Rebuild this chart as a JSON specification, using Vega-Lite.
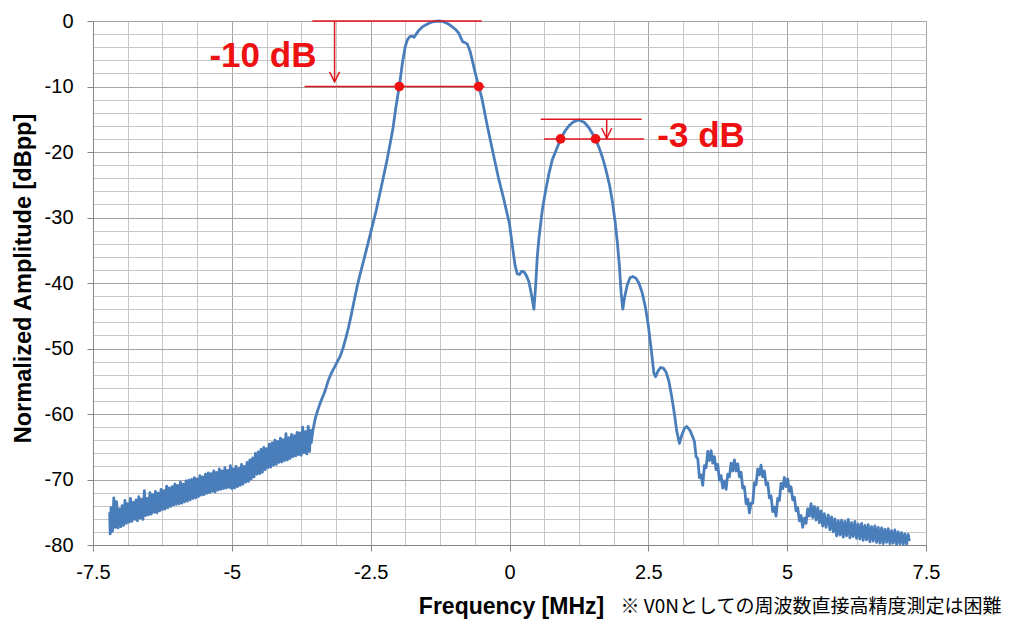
{
 "$schema": "https://vega.github.io/schema/vega-lite/v6.json",
 "width": 833,
 "height": 524,
 "autosize": "none",
 "padding": {"left": 93, "top": 21, "right": 106, "bottom": 78},
 "background": "white",
 "config": {"view": {"stroke": null}, "font": "Liberation Sans"},
 "datasets": {
  "curve": [
   {"f":-7.2,"a":-75.0},{"f":-7.19,"a":-78.3},{"f":-7.175,"a":-74.3},{"f":-7.15,"a":-77.9},{"f":-7.125,"a":-72.8},{"f":-7.1,"a":-77.3},{"f":-7.075,"a":-73.4},{"f":-7.05,"a":-77.4},{"f":-7.025,"a":-74.5},{"f":-7.0,"a":-77.2},
   {"f":-6.975,"a":-74.0},{"f":-6.95,"a":-77.0},{"f":-6.925,"a":-73.2},{"f":-6.9,"a":-76.7},{"f":-6.875,"a":-73.7},{"f":-6.85,"a":-76.5},{"f":-6.825,"a":-72.9},{"f":-6.8,"a":-76.4},{"f":-6.775,"a":-73.5},{"f":-6.75,"a":-76.1},
   {"f":-6.725,"a":-73.1},{"f":-6.7,"a":-76.3},{"f":-6.675,"a":-72.6},{"f":-6.65,"a":-75.9},{"f":-6.625,"a":-73.0},{"f":-6.6,"a":-76.1},{"f":-6.575,"a":-71.7},{"f":-6.55,"a":-75.5},{"f":-6.525,"a":-72.9},{"f":-6.5,"a":-75.4},
   {"f":-6.475,"a":-72.0},{"f":-6.45,"a":-75.3},{"f":-6.425,"a":-72.3},{"f":-6.4,"a":-75.0},{"f":-6.375,"a":-71.8},{"f":-6.35,"a":-75.1},{"f":-6.325,"a":-72.1},{"f":-6.3,"a":-74.8},{"f":-6.275,"a":-71.5},{"f":-6.25,"a":-74.6},
   {"f":-6.225,"a":-71.7},{"f":-6.2,"a":-74.5},{"f":-6.175,"a":-71.0},{"f":-6.15,"a":-74.3},{"f":-6.125,"a":-71.3},{"f":-6.1,"a":-74.1},{"f":-6.075,"a":-71.1},{"f":-6.05,"a":-73.9},{"f":-6.025,"a":-70.7},{"f":-6.0,"a":-73.8},
   {"f":-5.975,"a":-70.9},{"f":-5.95,"a":-73.7},{"f":-5.925,"a":-70.4},{"f":-5.9,"a":-73.6},{"f":-5.875,"a":-70.7},{"f":-5.85,"a":-73.4},{"f":-5.825,"a":-70.2},{"f":-5.8,"a":-73.3},{"f":-5.775,"a":-70.1},{"f":-5.75,"a":-73.1},
   {"f":-5.725,"a":-70.0},{"f":-5.7,"a":-72.9},{"f":-5.675,"a":-69.7},{"f":-5.65,"a":-72.8},{"f":-5.625,"a":-69.9},{"f":-5.6,"a":-72.6},{"f":-5.575,"a":-69.4},{"f":-5.55,"a":-72.4},{"f":-5.525,"a":-69.6},{"f":-5.5,"a":-72.3},
   {"f":-5.475,"a":-69.2},{"f":-5.45,"a":-72.1},{"f":-5.425,"a":-69.0},{"f":-5.4,"a":-72.0},{"f":-5.375,"a":-69.1},{"f":-5.35,"a":-71.8},{"f":-5.325,"a":-68.7},{"f":-5.3,"a":-71.9},{"f":-5.275,"a":-68.9},{"f":-5.25,"a":-71.6},
   {"f":-5.225,"a":-68.4},{"f":-5.2,"a":-71.5},{"f":-5.175,"a":-68.7},{"f":-5.15,"a":-71.4},{"f":-5.125,"a":-68.2},{"f":-5.1,"a":-71.3},{"f":-5.075,"a":-68.6},{"f":-5.05,"a":-71.2},{"f":-5.025,"a":-67.9},{"f":-5.0,"a":-71.4},
   {"f":-4.975,"a":-68.4},{"f":-4.95,"a":-71.3},{"f":-4.925,"a":-68.0},{"f":-4.9,"a":-71.1},{"f":-4.875,"a":-68.3},{"f":-4.85,"a":-70.9},{"f":-4.825,"a":-67.7},{"f":-4.8,"a":-70.7},{"f":-4.775,"a":-68.0},{"f":-4.75,"a":-70.4},
   {"f":-4.725,"a":-67.4},{"f":-4.7,"a":-70.3},{"f":-4.675,"a":-67.0},{"f":-4.65,"a":-69.9},{"f":-4.625,"a":-66.7},{"f":-4.6,"a":-69.6},{"f":-4.575,"a":-66.0},{"f":-4.55,"a":-69.2},{"f":-4.525,"a":-65.8},{"f":-4.5,"a":-69.1},
   {"f":-4.475,"a":-65.4},{"f":-4.45,"a":-68.9},{"f":-4.425,"a":-65.1},{"f":-4.4,"a":-68.5},{"f":-4.375,"a":-65.3},{"f":-4.35,"a":-68.2},{"f":-4.325,"a":-64.6},{"f":-4.3,"a":-68.1},{"f":-4.275,"a":-64.4},{"f":-4.25,"a":-67.8},
   {"f":-4.225,"a":-64.0},{"f":-4.2,"a":-67.7},{"f":-4.175,"a":-64.2},{"f":-4.15,"a":-67.4},{"f":-4.125,"a":-63.7},{"f":-4.1,"a":-67.3},{"f":-4.075,"a":-63.9},{"f":-4.05,"a":-67.1},{"f":-4.025,"a":-63.0},{"f":-4.0,"a":-67.0},
   {"f":-3.975,"a":-63.6},{"f":-3.95,"a":-66.8},{"f":-3.925,"a":-63.1},{"f":-3.9,"a":-66.5},{"f":-3.875,"a":-63.3},{"f":-3.85,"a":-66.4},{"f":-3.825,"a":-62.8},{"f":-3.8,"a":-66.2},{"f":-3.775,"a":-62.9},{"f":-3.75,"a":-66.3},
   {"f":-3.725,"a":-62.0},{"f":-3.7,"a":-65.9},{"f":-3.675,"a":-62.7},{"f":-3.65,"a":-66.1},{"f":-3.625,"a":-61.9},{"f":-3.6,"a":-65.7},{"f":-3.585,"a":-62.5},{"f":-3.57,"a":-64.4},
   {"f":-3.54,"a":-62.5},{"f":-3.5,"a":-60.8},{"f":-3.46,"a":-59.6},{"f":-3.42,"a":-58.6},{"f":-3.38,"a":-57.7},{"f":-3.34,"a":-56.9},{"f":-3.3,"a":-55.9},{"f":-3.26,"a":-54.8},{"f":-3.22,"a":-54.0},{"f":-3.18,"a":-53.3},
   {"f":-3.14,"a":-52.7},{"f":-3.1,"a":-52.0},{"f":-3.05,"a":-51.2},{"f":-3.0,"a":-50.0},{"f":-2.95,"a":-48.5},{"f":-2.9,"a":-46.8},{"f":-2.85,"a":-44.9},{"f":-2.8,"a":-42.8},{"f":-2.74,"a":-40.4},{"f":-2.7,"a":-39.0},
   {"f":-2.6,"a":-35.7},{"f":-2.5,"a":-32.3},{"f":-2.4,"a":-28.9},{"f":-2.3,"a":-25.0},{"f":-2.2,"a":-21.0},{"f":-2.1,"a":-16.5},{"f":-2.05,"a":-13.4},{"f":-1.985,"a":-10.0},{"f":-1.93,"a":-6.5},{"f":-1.88,"a":-4.0},
   {"f":-1.84,"a":-2.9},{"f":-1.8,"a":-2.4},{"f":-1.76,"a":-2.3},{"f":-1.72,"a":-2.5},{"f":-1.68,"a":-2.0},{"f":-1.63,"a":-1.4},{"f":-1.57,"a":-0.9},{"f":-1.51,"a":-0.6},{"f":-1.45,"a":-0.35},{"f":-1.39,"a":-0.15},
   {"f":-1.33,"a":-0.05},{"f":-1.27,"a":0.0},{"f":-1.21,"a":-0.05},{"f":-1.15,"a":-0.25},{"f":-1.09,"a":-0.5},{"f":-1.03,"a":-0.9},{"f":-0.97,"a":-1.3},{"f":-0.91,"a":-1.9},{"f":-0.87,"a":-2.7},{"f":-0.84,"a":-3.2},
   {"f":-0.8,"a":-3.3},{"f":-0.76,"a":-3.5},{"f":-0.71,"a":-4.6},{"f":-0.67,"a":-6.0},{"f":-0.62,"a":-7.8},{"f":-0.555,"a":-10.0},{"f":-0.5,"a":-11.7},{"f":-0.4,"a":-16.0},{"f":-0.3,"a":-20.0},{"f":-0.2,"a":-23.9},
   {"f":-0.1,"a":-27.3},{"f":0.0,"a":-31.0},{"f":0.05,"a":-34.2},{"f":0.1,"a":-37.3},{"f":0.14,"a":-38.6},{"f":0.18,"a":-38.7},{"f":0.22,"a":-38.2},{"f":0.26,"a":-38.3},{"f":0.3,"a":-38.8},{"f":0.35,"a":-39.8},
   {"f":0.4,"a":-42.0},{"f":0.44,"a":-44.0},{"f":0.47,"a":-40.5},{"f":0.5,"a":-36.0},{"f":0.53,"a":-33.2},{"f":0.59,"a":-28.9},{"f":0.65,"a":-25.9},{"f":0.71,"a":-23.3},{"f":0.77,"a":-21.2},{"f":0.85,"a":-19.5},
   {"f":0.92,"a":-18.0},{"f":1.0,"a":-16.8},{"f":1.07,"a":-16.0},{"f":1.15,"a":-15.4},{"f":1.25,"a":-15.1},{"f":1.35,"a":-15.5},{"f":1.43,"a":-16.3},{"f":1.5,"a":-17.3},{"f":1.55,"a":-18.0},{"f":1.62,"a":-19.5},
   {"f":1.68,"a":-21.0},{"f":1.73,"a":-22.5},{"f":1.8,"a":-25.0},{"f":1.85,"a":-27.4},{"f":1.9,"a":-30.5},{"f":1.94,"a":-33.6},{"f":1.98,"a":-37.5},{"f":2.01,"a":-41.5},{"f":2.04,"a":-44.0},{"f":2.07,"a":-42.3},
   {"f":2.12,"a":-40.3},{"f":2.17,"a":-39.2},{"f":2.22,"a":-39.0},{"f":2.28,"a":-39.3},{"f":2.33,"a":-40.0},{"f":2.39,"a":-41.5},{"f":2.45,"a":-43.8},{"f":2.5,"a":-46.5},{"f":2.55,"a":-50.0},{"f":2.6,"a":-53.8},
   {"f":2.63,"a":-54.3},{"f":2.67,"a":-53.5},{"f":2.72,"a":-52.9},{"f":2.77,"a":-53.0},{"f":2.82,"a":-53.6},{"f":2.87,"a":-55.0},{"f":2.92,"a":-57.3},{"f":2.97,"a":-60.0},{"f":3.01,"a":-62.5},{"f":3.06,"a":-64.5},
   {"f":3.1,"a":-63.3},{"f":3.15,"a":-62.2},{"f":3.19,"a":-61.9},{"f":3.25,"a":-62.5},{"f":3.3,"a":-63.5},
   {"f":3.33,"a":-64.2},{"f":3.36,"a":-66.5},{"f":3.39,"a":-66.8},{"f":3.42,"a":-69.7},{"f":3.45,"a":-69.3},{"f":3.48,"a":-70.9},{"f":3.51,"a":-67.9},{"f":3.54,"a":-68.2},{"f":3.57,"a":-65.7},{"f":3.6,"a":-67.1},
   {"f":3.63,"a":-65.6},{"f":3.66,"a":-67.5},{"f":3.69,"a":-66.5},{"f":3.72,"a":-68.5},{"f":3.75,"a":-67.7},{"f":3.78,"a":-70.1},{"f":3.81,"a":-69.4},{"f":3.84,"a":-71.3},{"f":3.87,"a":-70.2},{"f":3.9,"a":-71.5},
   {"f":3.93,"a":-69.2},{"f":3.96,"a":-69.6},{"f":3.99,"a":-67.5},{"f":4.02,"a":-68.7},{"f":4.05,"a":-67.0},{"f":4.08,"a":-68.7},{"f":4.11,"a":-67.6},{"f":4.14,"a":-69.6},{"f":4.17,"a":-68.9},{"f":4.2,"a":-71.3},
   {"f":4.23,"a":-71.1},{"f":4.26,"a":-73.7},{"f":4.29,"a":-73.0},{"f":4.32,"a":-75.1},{"f":4.35,"a":-73.6},{"f":4.38,"a":-73.6},{"f":4.41,"a":-70.5},{"f":4.44,"a":-70.8},{"f":4.47,"a":-68.4},{"f":4.5,"a":-69.3},
   {"f":4.53,"a":-67.8},{"f":4.56,"a":-69.6},{"f":4.59,"a":-68.7},{"f":4.62,"a":-70.8},{"f":4.65,"a":-70.5},{"f":4.68,"a":-72.8},{"f":4.71,"a":-72.5},{"f":4.74,"a":-74.9},{"f":4.77,"a":-74.2},{"f":4.8,"a":-75.6},
   {"f":4.83,"a":-72.9},{"f":4.86,"a":-73.2},{"f":4.89,"a":-70.6},{"f":4.92,"a":-71.4},{"f":4.95,"a":-69.7},{"f":4.98,"a":-71.1},{"f":5.01,"a":-69.9},{"f":5.04,"a":-71.8},{"f":5.07,"a":-71.1},{"f":5.1,"a":-73.1},
   {"f":5.13,"a":-72.7},{"f":5.16,"a":-74.8},{"f":5.19,"a":-74.3},{"f":5.22,"a":-76.3},{"f":5.25,"a":-75.5},{"f":5.28,"a":-77.3},{"f":5.31,"a":-75.9},{"f":5.34,"a":-76.7},{"f":5.37,"a":-74.5},{"f":5.4,"a":-75.6},
   {"f":5.43,"a":-73.7},{"f":5.46,"a":-75.8},{"f":5.49,"a":-74.1},{"f":5.52,"a":-76.2},{"f":5.55,"a":-74.3},{"f":5.58,"a":-76.6},{"f":5.61,"a":-74.8},{"f":5.64,"a":-77.1},{"f":5.67,"a":-75.2},{"f":5.7,"a":-77.3},
   {"f":5.74,"a":-75.4},{"f":5.77,"a":-77.7},{"f":5.8,"a":-75.7},{"f":5.83,"a":-78.0},{"f":5.86,"a":-76.0},{"f":5.89,"a":-78.6},{"f":5.92,"a":-76.3},{"f":5.95,"a":-78.5},{"f":5.98,"a":-76.2},{"f":6.01,"a":-78.8},
   {"f":6.04,"a":-76.4},{"f":6.07,"a":-78.6},{"f":6.1,"a":-76.1},{"f":6.13,"a":-78.9},{"f":6.16,"a":-76.6},{"f":6.19,"a":-78.7},{"f":6.22,"a":-76.4},{"f":6.25,"a":-79.0},{"f":6.28,"a":-76.8},{"f":6.31,"a":-79.1},
   {"f":6.34,"a":-76.7},{"f":6.37,"a":-79.3},{"f":6.4,"a":-77.0},{"f":6.43,"a":-79.2},{"f":6.46,"a":-76.9},{"f":6.49,"a":-79.5},{"f":6.52,"a":-77.2},{"f":6.55,"a":-79.4},{"f":6.58,"a":-77.1},{"f":6.61,"a":-79.6},
   {"f":6.64,"a":-77.3},{"f":6.67,"a":-79.7},{"f":6.7,"a":-77.4},{"f":6.73,"a":-79.8},{"f":6.76,"a":-77.6},{"f":6.79,"a":-79.6},{"f":6.82,"a":-77.5},{"f":6.85,"a":-79.8},{"f":6.88,"a":-77.8},{"f":6.91,"a":-79.7},
   {"f":6.94,"a":-77.7},{"f":6.97,"a":-79.9},{"f":7.0,"a":-78.0},{"f":7.03,"a":-79.8},{"f":7.06,"a":-78.1},{"f":7.09,"a":-79.9},{"f":7.12,"a":-78.3},{"f":7.15,"a":-79.9},{"f":7.18,"a":-78.4},{"f":7.2,"a":-79.4}
  ],
  "hlines": [
   {"f": -3.55, "f2": -0.5, "a": 0},
   {"f": -3.69, "f2": -0.45, "a": -10},
   {"f": 0.56, "f2": 2.38, "a": -15},
   {"f": 0.62, "f2": 2.42, "a": -18}
  ],
  "arrows": [
   {"f": -3.15, "a": 0, "a2": -9.3},
   {"f": 1.75, "a": -15, "a2": -17.9}
  ],
  "heads": [
   {"f": -3.15, "a": -9.3},
   {"f": 1.75, "a": -17.9}
  ],
  "dots": [
   {"f": -1.985, "a": -10},
   {"f": -0.555, "a": -10},
   {"f": 0.92, "a": -18},
   {"f": 1.55, "a": -18}
  ],
  "labels": [
   {"f": -4.44, "a": -7.0, "t": "-10 dB"},
   {"f": 3.45, "a": -19.2, "t": "-3 dB"}
  ],
  "note": [
   {"f": 2.0, "a": -90.4, "t": "※ V0Nとしての周波数直接高精度測定は困難"}
  ]
 },
 "encoding": {
  "x": {
   "field": "f", "type": "quantitative",
   "scale": {"domain": [-7.5, 7.5], "nice": false, "zero": false},
   "axis": {
    "title": "Frequency [MHz]",
    "values": [-7.5,-6.875,-6.25,-5.625,-5,-4.375,-3.75,-3.125,-2.5,-1.875,-1.25,-0.625,0,0.625,1.25,1.875,2.5,3.125,3.75,4.375,5,5.625,6.25,6.875,7.5],
    "labelExpr": "datum.value % 2.5 === 0 ? '' + datum.value : ''",
    "labelFont": "Liberation Sans", "labelFontSize": 20, "labelColor": "#000000",
    "labelPadding": 11, "labelFlush": false, "labelOverlap": false,
    "tickSize": 6, "tickColor": "#868686",
    "tickOpacity": {"condition": {"test": "datum.value % 2.5 === 0", "value": 1}, "value": 0},
    "grid": true,
    "gridColor": {"condition": {"test": "datum.value % 2.5 === 0", "value": "#a4a4a4"}, "value": "#c6c6c6"},
    "gridOpacity": 1,
    "domainColor": "#868686",
    "titleFont": "Liberation Sans", "titleFontSize": 23, "titleFontWeight": "bold", "titleColor": "#000000",
    "titleX": 418, "titleY": 68, "titleAlign": "center", "titleBaseline": "alphabetic"
   }
  },
  "y": {
   "field": "a", "type": "quantitative",
   "scale": {"domain": [-80, 0], "nice": false, "zero": false},
   "axis": {
    "title": "Normalized Amplitude [dBpp]",
    "values": [-80,-78,-76,-74,-72,-70,-68,-66,-64,-62,-60,-58,-56,-54,-52,-50,-48,-46,-44,-42,-40,-38,-36,-34,-32,-30,-28,-26,-24,-22,-20,-18,-16,-14,-12,-10,-8,-6,-4,-2,0],
    "labelExpr": "datum.value % 10 === 0 ? '' + datum.value : ''",
    "labelFont": "Liberation Sans", "labelFontSize": 20, "labelColor": "#000000",
    "labelPadding": 14, "labelOverlap": false, "labelFlush": false,
    "tickSize": 6, "tickColor": "#868686",
    "tickOpacity": {"condition": {"test": "datum.value % 10 === 0", "value": 1}, "value": 0},
    "grid": true,
    "gridColor": {"condition": {"test": "datum.value % 10 === 0", "value": "#a4a4a4"}, "value": "#c6c6c6"},
    "gridOpacity": 1,
    "domainColor": "#868686",
    "titleFont": "Liberation Sans", "titleFontSize": 23.5, "titleFontWeight": "bold", "titleColor": "#000000",
    "titleAngle": -90, "titleX": -63, "titleY": 257, "titleAlign": "center", "titleBaseline": "alphabetic"
   }
  }
 },
 "layer": [
  {
   "data": {"name": "curve"},
   "mark": {"type": "line", "color": "#4a7ebb", "strokeWidth": 2.8, "strokeJoin": "round"}
  },
  {
   "data": {"name": "hlines"},
   "mark": {"type": "rule", "color": "#e0161e", "strokeWidth": 1.5},
   "encoding": {"x2": {"field": "f2"}}
  },
  {
   "data": {"name": "arrows"},
   "mark": {"type": "rule", "color": "#e0161e", "strokeWidth": 1.5},
   "encoding": {"y2": {"field": "a2"}}
  },
  {
   "data": {"name": "heads"},
   "mark": {"type": "point", "shape": "M-1,-2L0,0L1,-2", "size": 100, "filled": false, "color": "#e0161e", "strokeWidth": 1.5, "opacity": 1}
  },
  {
   "data": {"name": "dots"},
   "mark": {"type": "point", "shape": "circle", "size": 95, "filled": true, "color": "#ee1111", "opacity": 1}
  },
  {
   "data": {"name": "labels"},
   "mark": {"type": "text", "font": "Liberation Sans", "fontSize": 35, "fontWeight": "bold", "color": "#ee1111", "align": "center", "baseline": "alphabetic"},
   "encoding": {"text": {"field": "t"}}
  },
  {
   "data": {"name": "note"},
   "mark": {"type": "text", "font": "Noto Sans CJK JP", "fontSize": 19, "color": "#000000", "align": "left", "baseline": "alphabetic"},
   "encoding": {"text": {"field": "t"}}
  }
 ]
}
